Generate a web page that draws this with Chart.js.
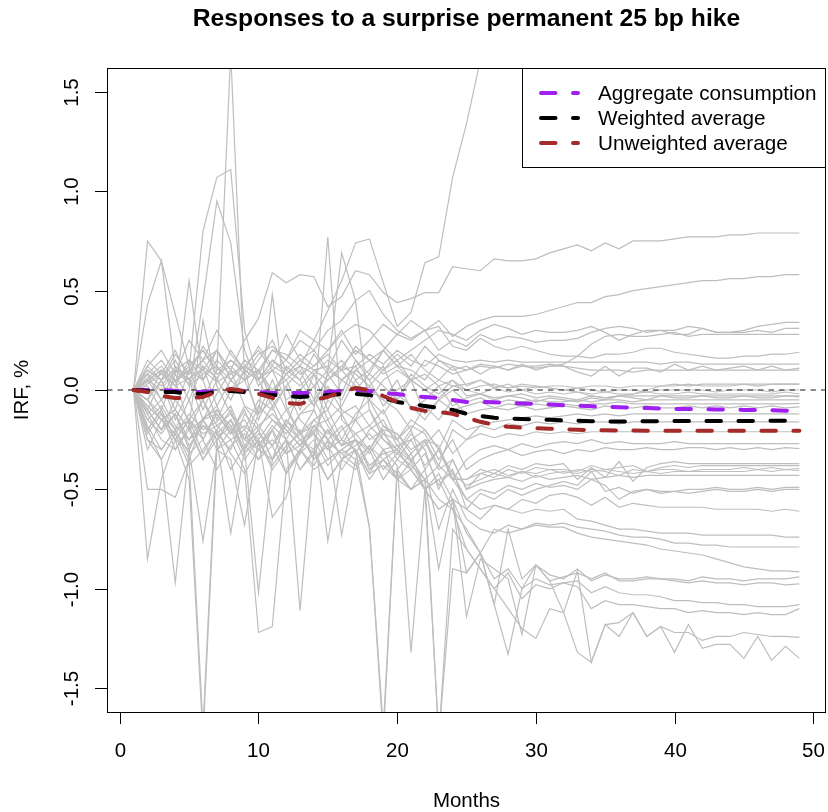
<!DOCTYPE html>
<html>
<head>
<meta charset="utf-8">
<title>Responses to a surprise permanent 25 bp hike</title>
<script src="https://cdn.jsdelivr.net/npm/chart.js@4.4.1/dist/chart.umd.min.js"></script>
<style>
	html, body { margin: 0; padding: 0; background: #fff; }
	#wrap { width: 828px; height: 812px; }
</style>
</head>
<body>
<div id="wrap"><canvas id="chart" width="828" height="812"></canvas></div>
<script>
var months = [1, 2, 3, 4, 5, 6, 7, 8, 9, 10, 11, 12, 13, 14, 15, 16, 17, 18, 19, 20,
	21, 22, 23, 24, 25, 26, 27, 28, 29, 30, 31, 32, 33, 34, 35, 36, 37, 38, 39, 40,
	41, 42, 43, 44, 45, 46, 47, 48, 49];

var xTicks = [0, 10, 20, 30, 40, 50];
var yTicks = [-1.5, -1.0, -0.5, 0.0, 0.5, 1.0, 1.5];
var yTickLabels = ['-1.5', '-1.0', '-0.5', '0.0', '0.5', '1.0', '1.5'];

// averages (the three dashed lines)
var aggConsumption = [0, 0, 0, -0.005, -0.01, -0.01, -0.005, 0, -0.005, -0.01,
	-0.015, -0.015, -0.015, -0.015, -0.01, -0.005, 0, -0.005, -0.015, -0.02,
	-0.03, -0.035, -0.04, -0.05, -0.06, -0.06, -0.062, -0.065, -0.068, -0.07,
	-0.073, -0.077, -0.079, -0.082, -0.085, -0.087, -0.089, -0.091, -0.093, -0.095,
	-0.096, -0.097, -0.098, -0.099, -0.1, -0.101, -0.102, -0.104, -0.105];
var weightedAvg = [0, -0.005, -0.01, -0.01, -0.02, -0.02, -0.01, -0.005, -0.01, -0.02,
	-0.025, -0.03, -0.035, -0.03, -0.025, -0.02, -0.02, -0.025, -0.04, -0.06,
	-0.07, -0.08, -0.09, -0.1, -0.12, -0.13, -0.14, -0.143, -0.146, -0.148,
	-0.15, -0.153, -0.155, -0.157, -0.158, -0.158, -0.158, -0.157, -0.157, -0.156,
	-0.156, -0.156, -0.156, -0.156, -0.156, -0.155, -0.155, -0.155, -0.155];
var unweightedAvg = [0, -0.01, -0.03, -0.04, -0.04, -0.035, -0.01, 0.005, -0.005, -0.02,
	-0.04, -0.065, -0.07, -0.05, -0.035, -0.01, 0.01, 0, -0.03, -0.06,
	-0.09, -0.105, -0.11, -0.12, -0.14, -0.16, -0.175, -0.185, -0.19, -0.192,
	-0.195, -0.198, -0.2, -0.202, -0.203, -0.204, -0.204, -0.205, -0.205, -0.205,
	-0.205, -0.205, -0.205, -0.205, -0.205, -0.205, -0.205, -0.205, -0.205];

// individual responses (grey lines)
var r01 = [0, 0.12, 0.05, 0.1, 0.08, 0.15, 0.2, 0.1, 0.25, 0.36,
	0.59, 0.54, 0.58, 0.57, 0.42, 0.47, 0.6, 0.58, 0.49, 0.44,
	0.46, 0.49, 0.49, 0.62, 0.61, 0.6, 0.66, 0.65, 0.65, 0.66,
	0.69, 0.71, 0.73, 0.7, 0.74, 0.71, 0.75, 0.75, 0.75, 0.76,
	0.77, 0.77, 0.77, 0.78, 0.78, 0.79, 0.79, 0.79, 0.79];
var r02 = [0, 0.05, 0.1, 0.02, 0.15, 0.1, 0.2, 0.05, 0.12, 0.08,
	0.2, 0.15, 0.25, 0.2, 0.3, 0.35, 0.45, 0.5, 0.38, 0.3,
	0.26, 0.3, 0.35, 0.27, 0.32, 0.35, 0.37, 0.37, 0.37, 0.38,
	0.4, 0.42, 0.44, 0.44, 0.47, 0.48, 0.5, 0.51, 0.52, 0.53,
	0.54, 0.55, 0.55, 0.56, 0.56, 0.57, 0.57, 0.58, 0.58];
var r03 = [0, 0.04, 0.1, 0.05, 0.12, 0.2, 0.1, 0.15, 0.08, 0.18,
	0.22, 0.15, 0.3, 0.25, 0.4, 0.55, 0.74, 0.76, 0.54, 0.32,
	0.39, 0.64, 0.67, 1.07, 1.34, 1.66, 1.95, 2.2, 2.35, 2.5,
	2.6, 2.7, 2.75, 2.8, 2.85, 2.9, 2.9, 2.95, 3.0, 3.0,
	3.05, 3.05, 3.1, 3.1, 3.1, 3.15, 3.15, 3.2, 3.2];
var r04 = [0, 0.08, 0.02, 0.12, 0.05, 0.15, 0.05, 0.2, 0.1, 0.05,
	0.15, 0.1, 0.18, 0.12, 0.2, 0.28, 0.33, 0.3, 0.22, 0.15,
	0.2, 0.25, 0.3, 0.28, 0.25, 0.3, 0.33, 0.31, 0.28, 0.3,
	0.29, 0.29, 0.3, 0.32, 0.29, 0.25, 0.28, 0.3, 0.3, 0.28,
	0.28, 0.31, 0.29, 0.29, 0.3, 0.32, 0.33, 0.34, 0.34];
var r05 = [0, 0.1, 0.05, 0.18, 0.08, 0.22, 0.12, 0.05, 0.15, 0.1,
	0.2, 0.18, 0.12, 0.25, 0.2, 0.3, 0.18, 0.25, 0.33, 0.28,
	0.35, 0.3, 0.2, 0.25, 0.22, 0.28, 0.25, 0.27, 0.26, 0.24,
	0.25, 0.25, 0.26, 0.29, 0.31, 0.32, 0.31, 0.29, 0.3, 0.3,
	0.32, 0.31, 0.29, 0.29, 0.29, 0.3, 0.29, 0.31, 0.31];
var r06 = [0, 0.05, 0, 0.1, 0.03, 0.12, 0.06, 0.15, 0.1, 0.05,
	0.12, 0.08, 0.15, 0.1, 0.05, 0.12, 0.2, 0.15, 0.1, 0.18,
	0.12, 0.22, 0.15, 0.12, 0.1, 0.13, 0.12, 0.1, 0.12, 0.11,
	0.12, 0.13, 0.17, 0.23, 0.27, 0.28, 0.27, 0.27, 0.28, 0.29,
	0.27, 0.28, 0.28, 0.28, 0.28, 0.28, 0.28, 0.28, 0.28];
var r07 = [0, 0.06, 0.12, 0.04, 0.1, 0.05, 0.15, 0.08, 0.12, 0.2,
	0.1, 0.15, 0.08, 0.12, 0.18, 0.1, 0.22, 0.15, 0.2, 0.28,
	0.25, 0.3, 0.32, 0.22, 0.2, 0.26, 0.22, 0.2, 0.22, 0.2,
	0.18, 0.17, 0.17, 0.16, 0.18, 0.18, 0.19, 0.21, 0.21, 0.19,
	0.18, 0.17, 0.16, 0.16, 0.17, 0.17, 0.18, 0.18, 0.19];
var r08 = [0, 0.03, 0.08, 0.02, 0.06, 0.1, 0.04, 0.08, 0.12, 0.06,
	0.1, 0.05, 0.12, 0.08, 0.15, 0.1, 0.12, 0.18, 0.13, 0.2,
	0.15, 0.12, 0.18, 0.15, 0.14, 0.15, 0.14, 0.15, 0.14, 0.14,
	0.14, 0.14, 0.14, 0.14, 0.14, 0.14, 0.14, 0.14, 0.13, 0.14,
	0.14, 0.13, 0.13, 0.13, 0.13, 0.13, 0.13, 0.13, 0.13];
var r09 = [0, 0.1, 0.05, 0.15, 0.02, 0.08, 0.12, 0, 0.1, 0.05,
	0.15, 0.08, 0.02, 0.1, 0.12, 0.05, 0.1, 0.15, 0.08, 0.12,
	0.1, 0.05, 0.15, 0.1, 0.12, 0.08, 0.12, 0.1, 0.13, 0.1,
	0.12, 0.12, 0.09, 0.07, 0.12, 0.07, 0.11, 0.11, 0.09, 0.13,
	0.1, 0.12, 0.1, 0.11, 0.12, 0.1, 0.12, 0.1, 0.11];
var r10 = [0, 0.05, -0.05, 0.1, 0.15, 0.05, 0.2, 0.1, 0.05, 0.15,
	0.25, 0.1, 0.05, 0.18, 0.08, 0.15, 0.05, 0.1, 0.2, 0.12,
	0.05, 0.15, 0.12, 0.08, 0.1, 0.12, 0.11, 0.13, 0.12, 0.12,
	0.13, 0.12, 0.11, 0.1, 0.1, 0.1, 0.09, 0.1, 0.1, 0.1,
	0.1, 0.1, 0.1, 0.1, 0.1, 0.1, 0.1, 0.1, 0.1];
var r11 = [0, 0.08, 0.15, 0.05, 0.1, 0.2, 0.08, 0.12, 0.05, 0.1,
	0, 0.08, 0.15, 0.1, 0.05, 0.12, 0.08, 0.02, 0.1, 0.15,
	0.05, 0, 0.05, 0.02, 0.03, 0.05, 0.02, 0.01, 0.03, 0.02,
	0.01, 0, -0.01, -0.03, -0.04, -0.03, -0.02, 0, 0.02, 0.03,
	0.02, 0.03, 0.03, 0.03, 0.03, 0.03, 0.03, 0.03, 0.03];
var r12 = [0, -0.05, 0.05, -0.1, 0.1, 0.8, 1.07, 1.11, 0.3, 0.05,
	-0.08, 0.02, 0.1, -0.05, 0.05, 0.1, 0.02, -0.05, 0.05, 0.1,
	0.05, 0.08, 0.02, 0.05, 0, 0.02, 0.03, 0.01, 0.02, 0.01,
	0.02, 0.02, 0.01, 0.02, 0.02, 0.01, 0.02, 0.02, 0.02, 0.02,
	0.03, 0.02, 0.02, 0.02, 0.03, 0.02, 0.03, 0.03, 0.03];
var r13 = [0, 0.15, 0.08, 0.2, 0.05, -0.05, 0.1, 1.7, 0.05, 0.1,
	-0.02, 0.08, 0.12, 0.02, 0.1, 0.05, 0, 0.08, 0.02, -0.05,
	0.05, 0, -0.04, 0.02, 0, -0.02, 0.01, -0.01, 0, -0.02,
	-0.01, -0.02, -0.01, -0.02, -0.01, -0.02, -0.02, -0.01, -0.02, -0.02,
	-0.01, -0.02, -0.02, -0.02, -0.02, -0.02, -0.02, -0.01, -0.02];
var r14 = [0, -0.1, 0.05, -0.15, 0, 0.45, 0.95, 0.74, 0.2, 0.02,
	0.1, -0.05, 0, 0.08, -0.1, 0.05, 0.12, 0, -0.05, 0.05,
	-0.1, -0.05, 0.02, -0.08, -0.04, -0.02, -0.05, -0.03, -0.04, -0.06,
	-0.04, -0.05, -0.06, -0.04, -0.05, -0.03, -0.04, -0.05, -0.03, -0.04,
	-0.04, -0.03, -0.04, -0.04, -0.03, -0.04, -0.04, -0.03, -0.035];
var r15 = [0, 0.75, 0.65, 0.38, 0.12, -0.1, 0.05, -0.05, 0.1, -0.15,
	0, 0.05, -0.1, 0.08, 0, -0.05, 0.1, 0.05, -0.08, 0,
	0.05, -0.12, -0.05, 0, -0.06, -0.04, -0.07, -0.05, -0.06, -0.05,
	-0.06, -0.06, -0.05, -0.06, -0.05, -0.05, -0.06, -0.05, -0.05, -0.05,
	-0.05, -0.05, -0.05, -0.05, -0.05, -0.05, -0.05, -0.05, -0.05];
var r16 = [0, 0.43, 0.65, 0.1, 0.05, -0.15, -0.02, 0.1, -0.08, -0.12,
	0.05, -0.1, -0.05, 0.02, -0.15, -0.08, 0.05, -0.05, -0.12, -0.02,
	-0.08, -0.15, -0.05, -0.1, -0.08, -0.06, -0.09, -0.07, -0.08, -0.07,
	-0.08, -0.07, -0.08, -0.07, -0.07, -0.06, -0.07, -0.07, -0.07, -0.07,
	-0.07, -0.07, -0.07, -0.07, -0.07, -0.07, -0.07, -0.07, -0.067];
var r17 = [0, -0.05, 0.1, -0.02, 0.55, 0.05, -0.15, 0, 0.05, -0.12,
	-0.05, -0.18, 0, -0.08, 0.02, -0.1, -0.15, 0.02, -0.05, -0.1,
	-0.2, -0.08, -0.15, -0.05, -0.12, -0.1, -0.09, -0.1, -0.08, -0.1,
	-0.09, -0.08, -0.09, -0.1, -0.08, -0.09, -0.09, -0.08, -0.09, -0.09,
	-0.08, -0.09, -0.08, -0.09, -0.08, -0.09, -0.08, -0.09, -0.085];
var r18 = [0, 0.08, -0.05, 0.05, -0.18, 0.35, 0.02, -0.12, -0.2, -0.05,
	-0.1, 0.02, -0.15, -0.22, -0.05, -0.12, -0.08, -0.18, -0.1, -0.25,
	-0.15, -0.2, -0.3, -0.15, -0.2, -0.18, -0.16, -0.15, -0.14, -0.13,
	-0.14, -0.13, -0.12, -0.13, -0.12, -0.13, -0.12, -0.12, -0.12, -0.12,
	-0.12, -0.12, -0.12, -0.12, -0.12, -0.12, -0.12, -0.12, -0.12];
var r19 = [0, -0.15, -0.08, -0.2, -0.05, -0.25, -0.1, -0.18, -0.3, -0.12,
	0.48, -0.08, -0.22, -0.15, -0.1, -0.25, -0.12, -0.05, -0.18, -0.22,
	-0.3, -0.25, -0.38, -0.2, -0.25, -0.18, -0.2, -0.17, -0.18, -0.16,
	-0.17, -0.16, -0.17, -0.16, -0.16, -0.17, -0.16, -0.16, -0.16, -0.16,
	-0.16, -0.16, -0.16, -0.16, -0.16, -0.16, -0.16, -0.16, -0.16];
var r20 = [0, -0.1, -0.2, -0.12, -0.3, -0.15, -0.08, -0.22, -0.1, -0.28,
	-0.18, -0.25, -0.12, -0.1, 0.77, -0.15, -0.22, -0.3, -0.18, -0.25,
	-0.35, -0.28, -0.2, -0.32, -0.25, -0.22, -0.24, -0.22, -0.23, -0.21,
	-0.22, -0.21, -0.22, -0.21, -0.21, -0.21, -0.21, -0.21, -0.21, -0.21,
	-0.21, -0.21, -0.21, -0.21, -0.21, -0.21, -0.21, -0.21, -0.21];
var r21 = [0, -0.2, -0.1, -0.25, -0.15, -0.32, -0.2, -0.1, -0.28, -0.2,
	-0.35, -0.15, -0.25, -0.3, 0.1, 0.69, 0.45, -0.1, -0.25, -0.3,
	-0.2, -0.4, -0.3, -0.45, -0.35, -0.3, -0.28, -0.3, -0.27, -0.29,
	-0.27, -0.26, -0.27, -0.25, -0.27, -0.26, -0.27, -0.27, -0.27, -0.26,
	-0.27, -0.27, -0.27, -0.27, -0.27, -0.27, -0.27, -0.27, -0.27];
var r22 = [0, -0.05, -0.15, -0.1, -0.2, -0.05, -0.18, -0.12, -0.25, -0.08,
	-0.15, -0.22, -0.12, -0.05, -0.18, -0.28, -0.15, -0.1, -0.22, -0.25,
	-0.18, -0.22, -0.35, -0.25, -0.4, -0.35, -0.32, -0.3, -0.33, -0.31,
	-0.3, -0.32, -0.3, -0.31, -0.29, -0.3, -0.3, -0.29, -0.3, -0.3,
	-0.29, -0.29, -0.3, -0.29, -0.3, -0.29, -0.3, -0.29, -0.295];
var r23 = [0, -0.1, -0.2, -0.05, -0.15, -0.25, -0.12, -0.22, -0.08, -0.18,
	-0.28, -0.15, -0.22, -0.1, -0.25, -0.18, -0.32, -0.2, -0.15, -0.28,
	-0.25, -0.38, -0.3, -0.45, -0.45, -0.4, -0.42, -0.38, -0.4, -0.37,
	-0.38, -0.37, -0.45, -0.39, -0.44, -0.36, -0.46, -0.39, -0.37, -0.36,
	-0.37, -0.37, -0.37, -0.37, -0.37, -0.37, -0.37, -0.37, -0.37];
var r24 = [0, -0.2, -0.1, -0.25, -0.15, -0.05, -0.22, -0.3, -0.12, -0.2,
	-0.08, -0.25, -0.32, -0.18, -0.15, -0.28, -0.22, -0.18, -0.25, -0.32,
	-0.22, -0.3, -0.5, -0.35, -0.5, -0.42, -0.44, -0.4, -0.42, -0.39,
	-0.4, -0.4, -0.41, -0.38, -0.4, -0.39, -0.38, -0.41, -0.39, -0.38,
	-0.39, -0.38, -0.38, -0.38, -0.38, -0.38, -0.38, -0.38, -0.38];
var r25 = [0, -0.08, -0.15, -0.22, -0.12, -0.2, -0.16, -0.08, -0.25, -0.18,
	-0.12, -0.2, -0.28, -0.15, -0.22, -0.12, -0.25, -0.3, -0.2, -0.22,
	-0.32, -0.25, -0.28, -0.45, -0.45, -0.42, -0.4, -0.43, -0.41, -0.44,
	-0.42, -0.41, -0.42, -0.4, -0.41, -0.43, -0.4, -0.41, -0.4, -0.4,
	-0.41, -0.4, -0.4, -0.4, -0.39, -0.4, -0.39, -0.4, -0.395];
var r26 = [0, -0.12, -0.05, -0.18, -0.25, -0.14, -0.1, -0.2, -0.15, -0.28,
	-0.2, -0.1, -0.22, -0.18, -0.3, -0.2, -0.15, -0.25, -0.2, -0.35,
	-0.25, -0.2, -0.3, -0.42, -0.48, -0.45, -0.42, -0.44, -0.41, -0.42,
	-0.4, -0.42, -0.4, -0.41, -0.4, -0.41, -0.42, -0.41, -0.42, -0.41,
	-0.41, -0.41, -0.41, -0.41, -0.41, -0.4, -0.41, -0.4, -0.405];
var r27 = [0, -0.15, -0.22, -0.12, -0.28, -0.18, -0.25, -0.15, -0.32, -0.22,
	-0.28, -0.18, -0.25, -0.32, -0.2, -0.28, -0.25, -0.32, -0.22, -0.3,
	-0.36, -0.26, -0.4, -0.35, -0.5, -0.47, -0.45, -0.44, -0.46, -0.43,
	-0.45, -0.44, -0.43, -0.45, -0.44, -0.43, -0.44, -0.43, -0.43, -0.43,
	-0.43, -0.43, -0.43, -0.43, -0.43, -0.43, -0.43, -0.43, -0.43];
var r28 = [0, -0.22, -0.12, -0.3, -0.2, -0.35, -0.25, -0.18, -0.32, -0.25,
	-0.38, -0.28, -0.22, -0.35, -0.26, -0.32, -0.38, -0.28, -0.35, -0.3,
	-0.4, -0.32, -0.48, -0.4, -0.6, -0.52, -0.55, -0.5, -0.53, -0.5,
	-0.48, -0.46, -0.48, -0.41, -0.51, -0.49, -0.52, -0.5, -0.52, -0.51,
	-0.5, -0.5, -0.49, -0.5, -0.5, -0.49, -0.5, -0.49, -0.49];
var r29 = [0, -0.18, -0.3, -0.2, -0.32, -0.25, -0.4, -0.28, -0.22, -0.35,
	-0.28, -0.42, -0.32, -0.25, -0.38, -0.3, -0.35, -0.28, -0.4, -0.32,
	-0.38, -0.45, -0.38, -0.45, -0.55, -0.5, -0.52, -0.48, -0.5, -0.47,
	-0.49, -0.48, -0.5, -0.45, -0.48, -0.55, -0.51, -0.5, -0.51, -0.51,
	-0.52, -0.51, -0.5, -0.51, -0.51, -0.5, -0.51, -0.5, -0.5];
var r30 = [0, -0.25, -0.35, -0.22, -0.38, -0.3, -0.2, -0.32, -0.42, -0.3,
	-0.35, -0.25, -0.4, -0.32, -0.45, -0.35, -0.3, -0.42, -0.38, -0.45,
	-0.36, -0.5, -0.42, -0.55, -0.6, -0.65, -0.58, -0.6, -0.55, -0.57,
	-0.53, -0.52, -0.54, -0.58, -0.54, -0.59, -0.57, -0.58, -0.59, -0.59,
	-0.59, -0.59, -0.6, -0.6, -0.6, -0.6, -0.61, -0.6, -0.61];
var r31 = [0, -0.12, -0.25, -0.3, -0.18, -0.35, -0.22, -0.4, -0.28, -0.35,
	-0.2, -0.42, -0.3, -0.38, -0.25, -0.73, -0.35, -0.69, -1.7, -0.4,
	-0.32, -0.5, -0.45, -0.42, -0.55, -0.6, -0.58, -0.6, -0.62, -0.6,
	-0.61, -0.6, -0.65, -0.66, -0.68, -0.7, -0.7, -0.71, -0.72, -0.72,
	-0.72, -0.73, -0.73, -0.73, -0.73, -0.73, -0.73, -0.74, -0.74];
var r32 = [0, -0.5, -0.5, -0.54, -0.35, -1.7, -0.25, -0.15, -0.3, -0.2,
	-0.35, -0.25, -0.4, -0.3, -0.45, -0.35, -0.3, -0.42, -0.3, -0.45,
	-0.5, -0.4, -0.7, -0.5, -0.65, -0.7, -0.72, -0.68, -0.7, -0.67,
	-0.68, -0.67, -0.69, -0.7, -0.71, -0.73, -0.74, -0.74, -0.75, -0.77,
	-0.77, -0.78, -0.78, -0.79, -0.79, -0.79, -0.79, -0.79, -0.79];
var r33 = [0, -0.85, -0.45, -0.25, -0.3, -0.76, -0.3, -0.2, -0.35, -0.25,
	-0.4, -0.3, -0.2, -0.35, -0.28, -0.4, -0.3, -0.45, -0.35, -0.42,
	-0.5, -0.45, -0.9, -0.55, -0.72, -0.82, -0.7, -0.72, -0.7, -0.68,
	-0.69, -0.69, -0.72, -0.74, -0.75, -0.76, -0.77, -0.78, -0.8, -0.81,
	-0.82, -0.83, -0.85, -0.87, -0.89, -0.9, -0.91, -0.91, -0.915];
var r34 = [0, -0.2, -0.35, -0.97, -0.3, -0.15, -0.25, -0.72, -0.3, -1.02,
	-0.35, -0.25, -1.11, -0.3, -0.2, -0.35, -0.25, -0.4, -0.3, -0.38,
	-1.32, -0.5, -0.6, -0.55, -0.92, -0.82, -1.08, -0.7, -0.95, -0.88,
	-0.96, -0.94, -0.92, -0.95, -0.92, -0.96, -0.96, -0.95, -0.95, -0.95,
	-0.96, -0.94, -0.95, -0.95, -0.96, -0.95, -0.95, -0.95, -0.94];
var r35 = [0, -0.25, -0.3, -0.2, -0.35, -0.15, -0.3, -0.25, -0.4, -1.22,
	-1.19, -0.4, -0.3, -0.2, -0.76, -0.35, -0.4, -0.3, -0.45, -0.35,
	-0.4, -0.5, -0.6, -0.55, -1.14, -0.85, -0.9, -0.95, -1.23, -0.88,
	-0.93, -0.95, -0.9, -0.96, -0.93, -0.95, -0.95, -0.94, -0.95, -0.96,
	-0.97, -0.96, -0.97, -0.97, -0.98, -0.97, -0.97, -0.98, -0.975];
var r36 = [0, -0.3, -0.15, -0.25, -0.45, -1.75, -0.3, -0.35, -0.68, -0.25,
	-0.64, -0.54, -0.3, -0.4, -0.35, -0.3, -0.25, -0.4, -0.35, -0.45,
	-0.4, -0.5, -0.45, -0.6, -0.7, -0.82, -0.95, -0.9, -1.0, -0.95,
	-0.98, -0.97, -0.96, -1.02, -0.99, -1.02, -1.03, -1.03, -1.04, -1.06,
	-1.06, -1.07, -1.07, -1.08, -1.08, -1.09, -1.09, -1.09, -1.08];
var r37 = [0, -0.1, -0.2, -0.12, -0.25, -0.18, -0.22, -0.15, -0.25, -0.3,
	-0.2, -0.32, -0.25, -0.22, -0.3, -0.25, -0.3, -0.69, -1.75, -0.4,
	-0.5, -0.45, -0.55, -0.6, -0.8, -0.9, -1.0, -0.92, -1.05, -0.98,
	-1.0, -0.97, -0.99, -1.1, -1.06, -1.08, -1.08, -1.09, -1.1, -1.1,
	-1.12, -1.11, -1.12, -1.12, -1.13, -1.12, -1.13, -1.13, -1.1];
var r38 = [0, -0.08, -0.15, -0.1, -0.2, -0.15, -0.12, -0.22, -0.18, -0.25,
	-0.15, -0.2, -0.28, -0.18, -0.25, -0.32, -0.28, -0.22, -0.3, -0.28,
	-0.35, -0.45, -1.75, -0.9, -0.92, -0.82, -1.08, -1.33, -1.0, -0.88,
	-0.96, -1.12, -0.91, -1.37, -1.18, -1.17, -1.12, -1.24, -1.19, -1.22,
	-1.22, -1.26, -1.24, -1.24, -1.22, -1.23, -1.24, -1.24, -1.245];
var r39 = [0, -0.05, -0.12, -0.2, -0.15, -0.22, -0.18, -0.25, -0.2, -0.3,
	-0.25, -0.32, -0.28, -0.22, -0.35, -0.3, -0.25, -0.38, -0.32, -0.3,
	-0.4, -0.5, -1.75, -0.7, -0.8, -0.9, -1.0, -1.1, -1.2, -1.25,
	-1.1, -1.12, -1.32, -1.37, -1.18, -1.24, -1.12, -1.24, -1.19, -1.32,
	-1.18, -1.3, -1.28, -1.28, -1.35, -1.24, -1.36, -1.29, -1.35];
var r40 = [0, 0.12, 0.2, 0.08, 0.25, 0.15, 0.3, 0.18, 0.1, 0.22,
	0.12, 0.28, 0.15, 0.2, 0.1, 0.25, 0.15, 0.08, 0.2, 0.12,
	0.18, 0.1, 0.05, 0.12, 0.02, 0.05, 0.01, 0.03, 0, 0.02,
	0.01, 0, 0.01, 0, -0.01, 0, 0, -0.01, 0, 0,
	0, 0, -0.01, 0, 0, 0, -0.01, 0, 0];
var r41 = [0, 0.02, -0.1, 0.08, -0.05, 0.12, -0.08, 0.05, -0.02, 0.1,
	-0.05, 0.12, 0.05, -0.08, 0.08, -0.02, 0.15, 0.05, 0.12, -0.05,
	0.08, 0.02, -0.02, 0.05, -0.03, -0.02, -0.04, -0.03, -0.02, -0.04,
	-0.03, -0.04, -0.05, -0.03, -0.04, -0.03, -0.03, -0.03, -0.03, -0.03,
	-0.03, -0.03, -0.03, -0.03, -0.03, -0.03, -0.03, -0.03, -0.03];

var regions = [r01, r02, r03, r04, r05, r06, r07, r08, r09, r10,
	r11, r12, r13, r14, r15, r16, r17, r18, r19, r20,
	r21, r22, r23, r24, r25, r26, r27, r28, r29, r30,
	r31, r32, r33, r34, r35, r36, r37, r38, r39, r40, r41];

var legendItems = [
	{ label: 'Aggregate consumption', color: '#a020f0' },
	{ label: 'Weighted average', color: '#000000' },
	{ label: 'Unweighted average', color: '#a52a2a' }
];

var FONT = '"Liberation Sans", Arial, Helvetica, sans-serif';
var X_MIN = -0.92, X_MAX = 50.92;   // R's 4% range extension around 1..49
var Y_MIN = -1.62, Y_MAX = 1.62;

function toPoints(values) {
	var pts = [];
	for (var i = 0; i < values.length; i++) {
		pts.push({ x: months[i], y: values[i] });
	}
	return pts;
}

function avgDataset(values, color) {
	return {
		data: toPoints(values),
		borderColor: color,
		borderWidth: 4,
		borderDash: [14.5, 17.5],
		borderCapStyle: 'round',
		borderJoinStyle: 'round',
		pointRadius: 0,
		tension: 0,
		clip: 0
	};
}

// first dataset is drawn last (on top)
var datasets = [
	avgDataset(unweightedAvg, '#a52a2a'),
	avgDataset(weightedAvg, '#000000'),
	avgDataset(aggConsumption, '#a020f0'),
	{
		data: [{ x: X_MIN, y: 0 }, { x: X_MAX, y: 0 }],
		borderColor: '#1a1a1a',
		borderWidth: 1,
		borderDash: [5.5, 5],
		pointRadius: 0,
		clip: 0
	}
];
for (var i = 0; i < regions.length; i++) {
	datasets.push({
		data: toPoints(regions[i]),
		borderColor: '#bebebe',
		borderWidth: 1.2,
		pointRadius: 0,
		tension: 0,
		clip: 0
	});
}

// box, ticks, labels and legend drawn the way R's base graphics lays them out
var rFrame = {
	id: 'rFrame',
	afterDraw: function (chart) {
		var ctx = chart.ctx;
		var a = chart.chartArea;
		var xs = chart.scales.x;
		var ys = chart.scales.y;
		var midX = (a.left + a.right) / 2;
		var midY = (a.top + a.bottom) / 2;
		ctx.save();
		ctx.strokeStyle = '#000';
		ctx.fillStyle = '#000';
		ctx.lineWidth = 1;
		ctx.setLineDash([]);

		ctx.strokeRect(a.left + 0.5, a.top + 0.5, a.right - a.left - 1, a.bottom - a.top);

		// x axis
		ctx.font = '20.5px ' + FONT;
		ctx.textAlign = 'center';
		ctx.textBaseline = 'alphabetic';
		for (var i = 0; i < xTicks.length; i++) {
			var px = Math.round(xs.getPixelForValue(xTicks[i])) + 0.5;
			ctx.beginPath();
			ctx.moveTo(px, a.bottom);
			ctx.lineTo(px, a.bottom + 12);
			ctx.stroke();
			ctx.fillText(String(xTicks[i]), px, a.bottom + 45);
		}

		// y axis
		for (var j = 0; j < yTicks.length; j++) {
			var py = Math.round(ys.getPixelForValue(yTicks[j])) + 0.5;
			ctx.beginPath();
			ctx.moveTo(a.left - 12, py);
			ctx.lineTo(a.left, py);
			ctx.stroke();
			ctx.save();
			ctx.translate(a.left - 29, py);
			ctx.rotate(-Math.PI / 2);
			ctx.fillText(yTickLabels[j], 0, 0);
			ctx.restore();
		}

		// axis titles
		ctx.fillText('Months', midX, a.bottom + 95);
		ctx.save();
		ctx.translate(28, midY);
		ctx.rotate(-Math.PI / 2);
		ctx.fillText('IRF, %', 0, 0);
		ctx.restore();

		// main title
		ctx.font = 'bold 24.7px ' + FONT;
		ctx.fillText('Responses to a surprise permanent 25 bp hike', midX, 26);

		// legend
		var lx = 522, ly = a.top, lw = a.right - 522, lh = 99;
		ctx.fillStyle = '#fff';
		ctx.fillRect(lx, ly, lw, lh);
		ctx.strokeStyle = '#000';
		ctx.strokeRect(lx + 0.5, ly + 0.5, lw - 1, lh);
		ctx.font = '20.7px ' + FONT;
		ctx.textAlign = 'left';
		for (var k = 0; k < legendItems.length; k++) {
			var rowY = 93 + k * 25;
			ctx.save();
			ctx.strokeStyle = legendItems[k].color;
			ctx.lineWidth = 4;
			ctx.lineCap = 'round';
			ctx.setLineDash([14.5, 17.5]);
			ctx.beginPath();
			ctx.moveTo(541, rowY);
			ctx.lineTo(578, rowY);
			ctx.stroke();
			ctx.restore();
			ctx.fillStyle = '#000';
			ctx.fillText(legendItems[k].label, 598, rowY + 6.5);
		}
		ctx.restore();
	}
};

var chart = new Chart(document.getElementById('chart').getContext('2d'), {
	type: 'line',
	data: { datasets: datasets },
	options: {
		responsive: false,
		animation: false,
		devicePixelRatio: 1,
		parsing: true,
		layout: { padding: { left: 107, right: 2, top: 68, bottom: 100 } },
		scales: {
			x: { type: 'linear', min: X_MIN, max: X_MAX, display: false },
			y: { type: 'linear', min: Y_MIN, max: Y_MAX, display: false }
		},
		plugins: {
			legend: { display: false },
			tooltip: { enabled: false },
			title: { display: false }
		},
		elements: { line: { fill: false } }
	},
	plugins: [rFrame]
});
</script>
</body>
</html>
